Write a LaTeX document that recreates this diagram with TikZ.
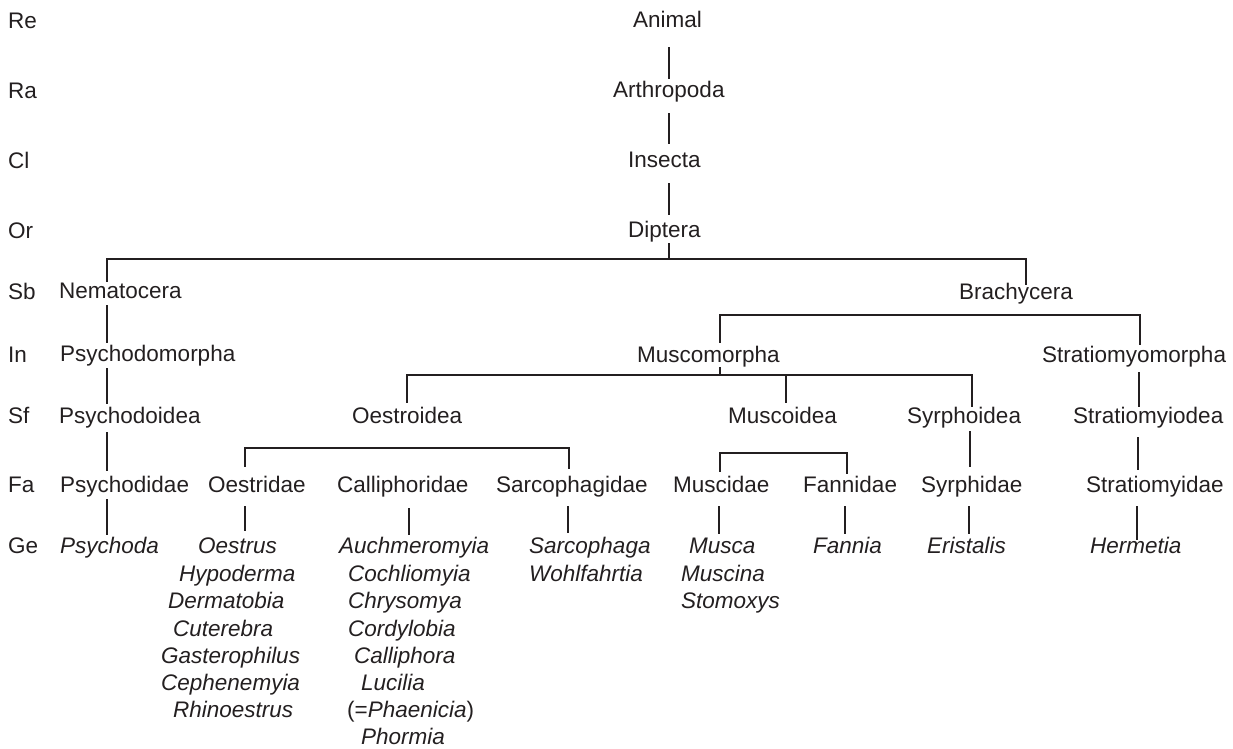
\documentclass[tikz,border=0pt]{standalone}
\usepackage{fontspec}
\setmainfont{Liberation Sans}
\definecolor{ink}{HTML}{231F20}
\tikzset{
  lbl/.style={anchor=base west, inner sep=0pt, text height=16pt, text depth=5pt,
              font=\fontsize{22.5}{27}\selectfont, text=ink},
  gen/.style={lbl, font=\fontsize{22.5}{27}\selectfont\itshape},
  ln/.style={draw=ink, line width=1.3pt}
}
\begin{document}
\begin{tikzpicture}[x=1pt,y=-1pt]
\useasboundingbox (0,0) rectangle (1233,748);
% rank labels
\node[lbl] (re) at (8,28) {Re};
\node[lbl] (ra) at (8,98) {Ra};
\node[lbl] (cl) at (8,168) {Cl};
\node[lbl] (or) at (8,238) {Or};
\node[lbl] (sb) at (8,299) {Sb};
\node[lbl] (in) at (8,362) {In};
\node[lbl] (sf) at (8,423) {Sf};
\node[lbl] (fa) at (8,492) {Fa};
\node[lbl] (ge) at (8,553) {Ge};
% taxa
\node[lbl] (animal) at (633,27) {Animal};
\node[lbl] (arthropoda) at (613,97) {Arthropoda};
\node[lbl] (insecta) at (628,167) {Insecta};
\node[lbl] (diptera) at (628,237) {Diptera};
\node[lbl] (nematocera) at (59,298) {Nematocera};
\node[lbl] (brachycera) at (959,299) {Brachycera};
\node[lbl] (psychodomorpha) at (60,361) {Psychodomorpha};
\node[lbl] (muscomorpha) at (637,362) {Muscomorpha};
\node[lbl] (stratiomyomorpha) at (1042,362) {Stratiomyomorpha};
\node[lbl] (psychodoidea) at (59,423) {Psychodoidea};
\node[lbl] (oestroidea) at (352,423) {Oestroidea};
\node[lbl] (muscoidea) at (728,423) {Muscoidea};
\node[lbl] (syrphoidea) at (907,423) {Syrphoidea};
\node[lbl] (stratiomyiodea) at (1073,423) {Stratiomyiodea};
\node[lbl] (psychodidae) at (60,492) {Psychodidae};
\node[lbl] (oestridae) at (208,492) {Oestridae};
\node[lbl] (calliphoridae) at (337,492) {Calliphoridae};
\node[lbl] (sarcophagidae) at (496,492) {Sarcophagidae};
\node[lbl] (muscidae) at (673,492) {Muscidae};
\node[lbl] (fannidae) at (803,492) {Fannidae};
\node[lbl] (syrphidae) at (921,492) {Syrphidae};
\node[lbl] (stratiomyidae) at (1086,492) {Stratiomyidae};
% genera
\node[gen] (psychoda) at (60,553) {Psychoda};
\node[gen] (oestrus) at (198,553) {Oestrus};
\node[gen] (hypoderma) at (179,581) {Hypoderma};
\node[gen] (dermatobia) at (168,608) {Dermatobia};
\node[gen] (cuterebra) at (173,636) {Cuterebra};
\node[gen] (gasterophilus) at (161,663) {Gasterophilus};
\node[gen] (cephenemyia) at (161,690) {Cephenemyia};
\node[gen] (rhinoestrus) at (173,717) {Rhinoestrus};
\node[gen] (auchmeromyia) at (339,553) {Auchmeromyia};
\node[gen] (cochliomyia) at (348,581) {Cochliomyia};
\node[gen] (chrysomya) at (348,608) {Chrysomya};
\node[gen] (cordylobia) at (348,636) {Cordylobia};
\node[gen] (calliphora) at (354,663) {Calliphora};
\node[gen] (lucilia) at (361,690) {Lucilia};
\node[gen] (phaenicia) at (347,717) {{\upshape(=}Phaenicia{\upshape)}};
\node[gen] (phormia) at (361,744) {Phormia};
\node[gen] (sarcophaga) at (529,553) {Sarcophaga};
\node[gen] (wohlfahrtia) at (529,581) {Wohlfahrtia};
\node[gen] (musca) at (689,553) {Musca};
\node[gen] (muscina) at (681,581) {Muscina};
\node[gen] (stomoxys) at (681,608) {Stomoxys};
\node[gen] (fannia) at (813,553) {Fannia};
\node[gen] (eristalis) at (927,553) {Eristalis};
\node[gen] (hermetia) at (1090,553) {Hermetia};
% column / bar coordinates
\coordinate (cA) at (669,0);
\coordinate (b1L) at (107,259);
\coordinate (b1M) at (669,259);
\coordinate (b1R) at (1026,259);
\coordinate (b2L) at (720,315);
\coordinate (b2R) at (1140,315);
\coordinate (b3L) at (407,375);
\coordinate (b3M) at (786,375);
\coordinate (b3N) at (720,375);
\coordinate (b3R) at (972,375);
\coordinate (b4L) at (245,448);
\coordinate (b4R) at (569,448);
\coordinate (b5L) at (720,453);
\coordinate (b5R) at (847,453);
\coordinate (cSy) at (970,0);
\coordinate (cSt) at (1139,0);
\coordinate (cSt2) at (1138,0);
\coordinate (cCa) at (409,0);
\coordinate (cSa) at (568,0);
\coordinate (cMu) at (719,0);
\coordinate (cFa) at (845,0);
\coordinate (cEr) at (969,0);
\coordinate (cHe) at (1137,0);
% connectors
\draw[ln, shorten <=15pt, shorten >=2pt] (animal.south -| cA) -- (arthropoda.north -| cA);
\draw[ln, shorten <=11pt, shorten >=7pt] (arthropoda.south -| cA) -- (insecta.north -| cA);
\draw[ln, shorten <=11pt, shorten >=6pt] (insecta.south -| cA) -- (diptera.north -| cA);
\draw[ln, shorten <=1pt] (diptera.south -| b1M) -- (b1M);
\draw[ln, shorten >=-2pt] (nematocera.north -| b1L) -- (b1L) -- (b1R) -- (brachycera.north -| b1R);
\draw[ln, shorten <=2pt, shorten >=2pt] (nematocera.south -| b1L) -- (psychodomorpha.north -| b1L);
\draw[ln, shorten <=2pt, shorten >=3pt] (psychodomorpha.south -| b1L) -- (psychodoidea.north -| b1L);
\draw[ln, shorten <=4pt, shorten >=5pt] (psychodoidea.south -| b1L) -- (psychodidae.north -| b1L);
\draw[ln, shorten <=2pt, shorten >=2pt] (psychodidae.south -| b1L) -- (psychoda.north -| b1L);
% Brachycera
\draw[ln, shorten <=3pt, shorten >=1pt] (muscomorpha.north -| b2L) -- (b2L) -- (b2R) -- (stratiomyomorpha.north -| b2R);
% Muscomorpha
\draw[ln] (muscomorpha.south -| b3N) -- (b3N);
\draw[ln, shorten <=4pt, shorten >=0pt] (oestroidea.north -| b3L) -- (b3L) -- (b3R) -- (syrphoidea.north -| b3R);
\draw[ln, shorten >=4pt] (b3M) -- (muscoidea.north -| b3M);
% Oestroidea families
\draw[ln, shorten <=9pt, shorten >=7pt] (oestridae.north -| b4L) -- (b4L) -- (b4R) -- (sarcophagidae.north -| b4R);
% Muscoidea families
\draw[ln, shorten <=4pt, shorten >=2pt] (muscidae.north -| b5L) -- (b5L) -- (b5R) -- (fannidae.north -| b5R);
% single links
\draw[ln, shorten <=3pt, shorten >=9pt] (syrphoidea.south -| cSy) -- (syrphidae.north -| cSy);
\draw[ln, shorten <=5pt, shorten >=0pt] (stratiomyomorpha.south -| cSt) -- (stratiomyiodea.north -| cSt);
\draw[ln, shorten <=9pt, shorten >=6pt] (stratiomyiodea.south -| cSt2) -- (stratiomyidae.north -| cSt2);
% family -> genus
\draw[ln, shorten <=9pt, shorten >=6pt] (oestridae.south -| b4L) -- (oestrus.north -| b4L);
\draw[ln, shorten <=11pt, shorten >=2pt] (calliphoridae.south -| cCa) -- (auchmeromyia.north -| cCa);
\draw[ln, shorten <=9pt, shorten >=4pt] (sarcophagidae.south -| cSa) -- (sarcophaga.north -| cSa);
\draw[ln, shorten <=9pt, shorten >=3pt] (muscidae.south -| cMu) -- (musca.north -| cMu);
\draw[ln, shorten <=9pt, shorten >=3pt] (fannidae.south -| cFa) -- (fannia.north -| cFa);
\draw[ln, shorten <=9pt, shorten >=3pt] (syrphidae.south -| cEr) -- (eristalis.north -| cEr);
\draw[ln, shorten <=9pt, shorten >=-3pt] (stratiomyidae.south -| cHe) -- (hermetia.north -| cHe);
\end{tikzpicture}
\end{document}
